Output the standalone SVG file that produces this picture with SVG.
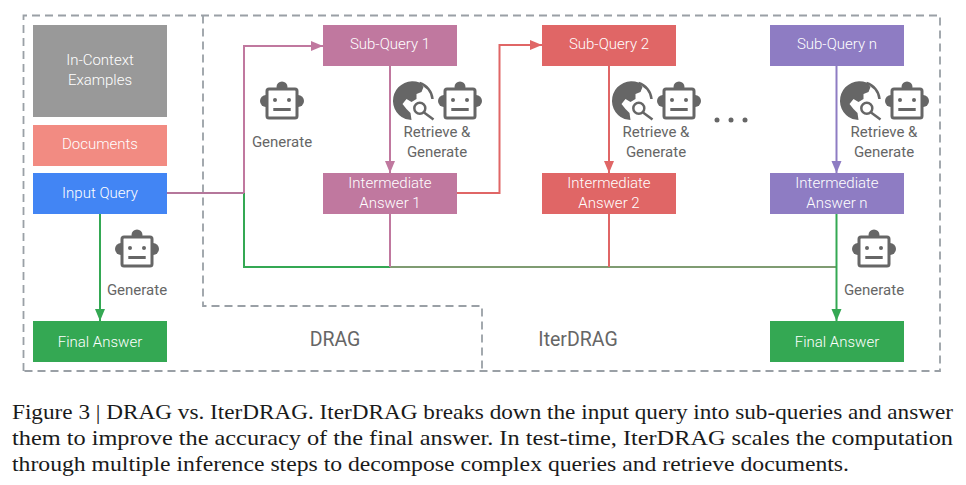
<svg xmlns="http://www.w3.org/2000/svg" width="966" height="485" viewBox="0 0 966 485">
<style>
.dash{fill:none;stroke:#9aa0a6;stroke-width:1.8;stroke-dasharray:8 5}
.c{fill:none;stroke-width:2}
.w{font-family:Roboto,"Liberation Sans",sans-serif;font-size:15px;font-weight:300;fill:#fff;text-anchor:middle}
.g{font-family:Roboto,"Liberation Sans",sans-serif;font-size:15px;fill:#666;text-anchor:middle}
.b{font-family:Roboto,"Liberation Sans",sans-serif;font-size:19.500px;fill:#666;text-anchor:middle}
.cap{font-family:"Liberation Serif",serif;font-size:21.500px;fill:#1a1a1a}
.ic{fill:#666}
</style>
<defs>
<marker id="aP" markerUnits="userSpaceOnUse" markerWidth="14" markerHeight="12" refX="12" refY="5" orient="auto"><path d="M0,0L12,5L0,10Z" fill="#c0789f"/></marker>
<marker id="aR" markerUnits="userSpaceOnUse" markerWidth="14" markerHeight="12" refX="12" refY="5" orient="auto"><path d="M0,0L12,5L0,10Z" fill="#e06666"/></marker>
<marker id="aV" markerUnits="userSpaceOnUse" markerWidth="14" markerHeight="12" refX="12" refY="5" orient="auto"><path d="M0,0L12,5L0,10Z" fill="#8e7cc3"/></marker>
<marker id="aG" markerUnits="userSpaceOnUse" markerWidth="14" markerHeight="12" refX="12" refY="5" orient="auto"><path d="M0,0L12,5L0,10Z" fill="#34a853"/></marker>
<g id="robot">
<circle class="ic" cx="-16" cy="0" r="6"/><circle class="ic" cx="16" cy="0" r="6"/><circle class="ic" cx="0" cy="-14" r="5.500"/>
<rect x="-15" y="-12" width="30" height="29" rx="2" fill="#fff" stroke="#666" stroke-width="3"/>
<circle class="ic" cx="-7" cy="-1" r="2"/><circle class="ic" cx="7" cy="-1" r="2"/>
<rect class="ic" x="-8.700" y="7" width="17.400" height="3"/>
</g>
<g id="globe">
<path class="ic" d="M6,-18.500A19.500,19.500 0 0 0 -8,18L-2,19L-3,12L-7,8L-11,3L-7,-2L-2,1L3,-2L3,-7L8,-9L10,-14Z"/>
<path d="M6,-18A18.500,18.500 0 0 1 19,-2" fill="none" stroke="#666" stroke-width="2.500"/>
<circle cx="6.300" cy="7.300" r="8.500" fill="#fff"/>
<circle cx="6.300" cy="7.300" r="5.500" fill="#fff" stroke="#666" stroke-width="2.500"/>
<path d="M10.500,11.500L20,18.500" stroke="#666" stroke-width="2.500" fill="none"/>
</g>
</defs>
<g id="regions">
<path class="dash" d="M23.500,371V15.500H940V371Z"/>
<path class="dash" d="M203,15.500V306H482V371"/>
</g>
<g id="connectors">
<path class="c" stroke="#34a853" d="M244,193V267H390"/>
<path class="c" stroke="#7f9c72" d="M390,267H836"/>
<path class="c" stroke="#b5779b" d="M167,193H244"/>
<path class="c" stroke="#c0789f" d="M244,193V46H323" marker-end="url(#aP)"/>
<path class="c" stroke="#c0789f" d="M390,66V173" marker-end="url(#aP)"/>
<path class="c" stroke="#c0789f" d="M390,214V267"/>
<path class="c" stroke="#e06666" d="M457,193H499.500V45H542" marker-end="url(#aR)"/>
<path class="c" stroke="#e06666" d="M609,66V173" marker-end="url(#aR)"/>
<path class="c" stroke="#e06666" d="M609,214V267"/>
<path class="c" stroke="#8e7cc3" d="M836.500,66V173" marker-end="url(#aV)"/>
<path class="c" stroke="#34a853" d="M836.500,214V321" marker-end="url(#aG)"/>
<path class="c" stroke="#34a853" d="M100,214V321" marker-end="url(#aG)"/>
</g>
<g id="in-context"><rect x="33" y="25" width="134" height="92" fill="#999"/><text class="w" x="100" y="65">In-Context</text><text class="w" x="100" y="85">Examples</text></g>
<g id="documents"><rect x="33" y="125" width="134" height="41" fill="#f28b82"/><text class="w" x="100" y="149">Documents</text></g>
<g id="input-query"><rect x="33" y="173" width="134" height="41" fill="#4285f4"/><text class="w" x="100" y="198">Input Query</text></g>
<g id="final-answer-drag"><rect x="33" y="321" width="134" height="41" fill="#34a853"/><text class="w" x="100" y="347">Final Answer</text></g>
<g id="sub-query-1"><rect x="323" y="25" width="134" height="41" fill="#c0789f"/><text class="w" x="390" y="49">Sub-Query 1</text></g>
<g id="intermediate-1"><rect x="323" y="173" width="134" height="41" fill="#c0789f"/><text class="w" x="390" y="188">Intermediate</text><text class="w" x="390" y="208">Answer 1</text></g>
<g id="sub-query-2"><rect x="542" y="25" width="134" height="41" fill="#e06666"/><text class="w" x="609" y="49">Sub-Query 2</text></g>
<g id="intermediate-2"><rect x="542" y="173" width="134" height="41" fill="#e06666"/><text class="w" x="609" y="188">Intermediate</text><text class="w" x="609" y="208">Answer 2</text></g>
<g id="sub-query-n"><rect x="770" y="25" width="134" height="41" fill="#8e7cc3"/><text class="w" x="837" y="49">Sub-Query n</text></g>
<g id="intermediate-n"><rect x="770" y="173" width="134" height="41" fill="#8e7cc3"/><text class="w" x="837" y="188">Intermediate</text><text class="w" x="837" y="208">Answer n</text></g>
<g id="final-answer-iterdrag"><rect x="770" y="321" width="134" height="41" fill="#34a853"/><text class="w" x="837" y="347">Final Answer</text></g>
<g id="generate-1"><use href="#robot" x="282" y="101"/><text class="g" x="282" y="147">Generate</text></g>
<g id="generate-left"><use href="#robot" x="137" y="249"/><text class="g" x="137" y="295">Generate</text></g>
<g id="generate-right"><use href="#robot" x="874" y="249"/><text class="g" x="874" y="295">Generate</text></g>
<g id="retrieve-1"><use href="#globe" x="413.500" y="101"/><use href="#robot" x="460" y="101"/><text class="g" x="437" y="137">Retrieve &amp;</text><text class="g" x="437" y="157">Generate</text></g>
<g id="retrieve-2"><use href="#globe" x="632.500" y="101"/><use href="#robot" x="679" y="101"/><text class="g" x="656" y="137">Retrieve &amp;</text><text class="g" x="656" y="157">Generate</text></g>
<g id="retrieve-n"><use href="#globe" x="860.500" y="101"/><use href="#robot" x="907" y="101"/><text class="g" x="884" y="137">Retrieve &amp;</text><text class="g" x="884" y="157">Generate</text></g>
<g id="ellipsis" class="ic"><circle cx="717" cy="120" r="2.500"/><circle cx="731" cy="120" r="2.500"/><circle cx="745" cy="120" r="2.500"/></g>
<text class="b" x="335" y="346">DRAG</text>
<text class="b" x="578" y="346">IterDRAG</text>
<g id="caption">
<text class="cap" x="12" y="419" textLength="941" lengthAdjust="spacingAndGlyphs">Figure 3 | DRAG vs. IterDRAG. IterDRAG breaks down the input query into sub-queries and answer</text>
<text class="cap" x="12" y="445" textLength="941" lengthAdjust="spacingAndGlyphs">them to improve the accuracy of the final answer. In test-time, IterDRAG scales the computation</text>
<text class="cap" x="12" y="471" textLength="837" lengthAdjust="spacingAndGlyphs">through multiple inference steps to decompose complex queries and retrieve documents.</text>
</g>
</svg>
